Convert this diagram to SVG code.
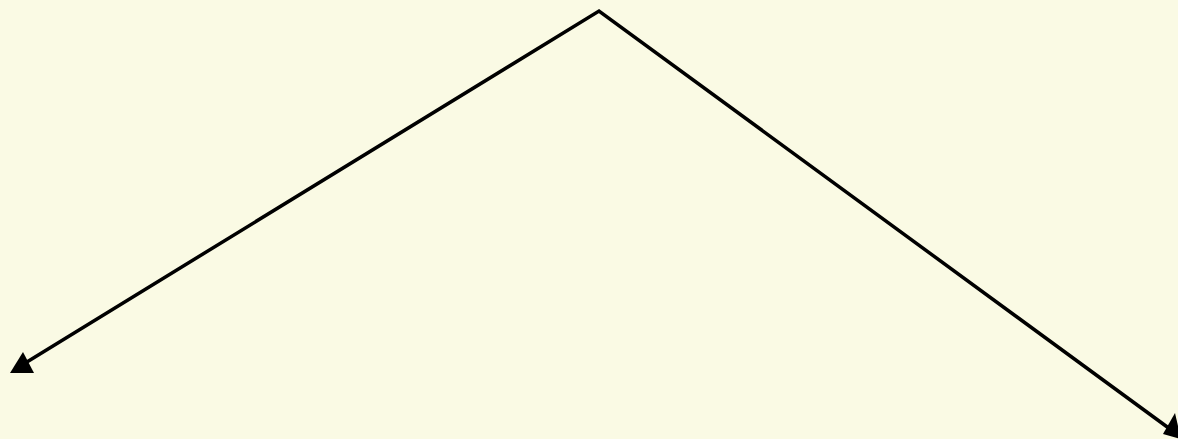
<svg xmlns="http://www.w3.org/2000/svg" width="1178" height="439" viewBox="0 0 1178 439">
<style>
.edge{fill:none;stroke:#000;stroke-width:3.5;stroke-linejoin:miter}
.head{fill:#000;stroke:none}
</style>
<rect x="0" y="0" width="1178" height="439" fill="#FAFAE4"/>
<g id="connectors">
<path class="edge" d="M22,365 L599,11 L1170,429"/>
<polygon class="head" points="10,373 34,373 23,352"/>
<polygon class="head" points="1181,439 1163,434 1175,413"/>
</g>
</svg>
